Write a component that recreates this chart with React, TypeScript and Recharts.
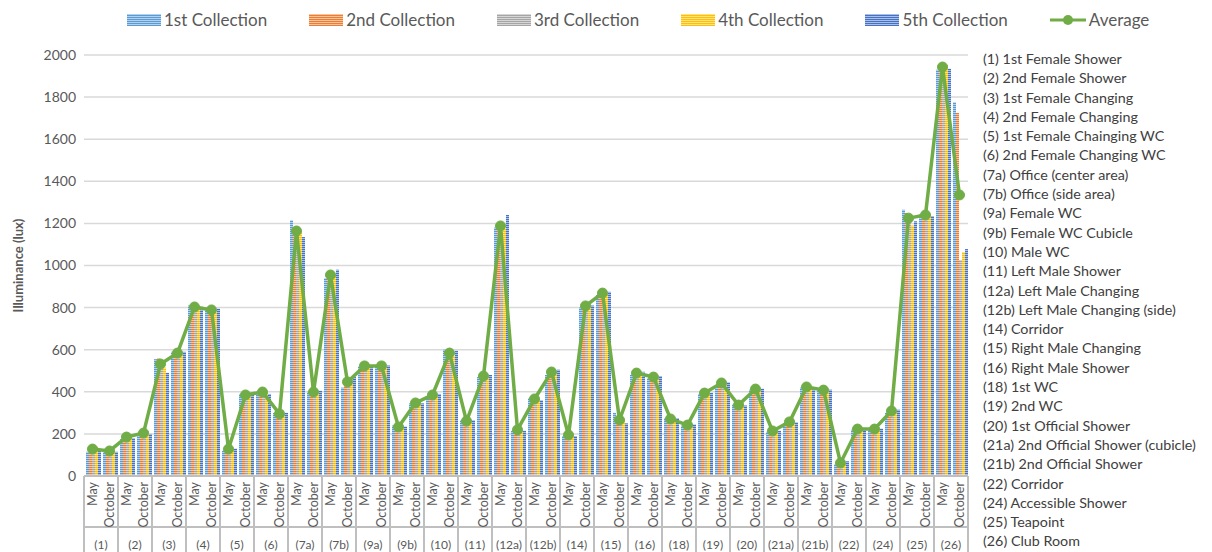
import React from "react";
import { Bar, CartesianGrid, ComposedChart, Legend, Line, XAxis, YAxis } from "recharts";

const locations = [
  "(1)", "(2)", "(3)", "(4)", "(5)", "(6)", "(7a)", "(7b)", "(9a)", "(9b)", "(10)", "(11)", "(12a)",
  "(12b)", "(14)", "(15)", "(16)", "(18)", "(19)", "(20)", "(21a)", "(21b)", "(22)", "(24)", "(25)", "(26)",
];

const locationNames = [
  "(1) 1st Female Shower",
  "(2) 2nd Female Shower",
  "(3) 1st Female Changing",
  "(4) 2nd Female Changing",
  "(5) 1st Female Chainging WC",
  "(6) 2nd Female Changing WC",
  "(7a) Office (center area)",
  "(7b) Office (side area)",
  "(9a) Female WC",
  "(9b) Female WC Cubicle",
  "(10) Male WC",
  "(11) Left Male Shower",
  "(12a) Left Male Changing",
  "(12b) Left Male Changing (side)",
  "(14) Corridor",
  "(15) Right Male Changing",
  "(16) Right Male Shower",
  "(18) 1st WC",
  "(19) 2nd WC",
  "(20) 1st Official Shower",
  "(21a) 2nd Official Shower (cubicle)",
  "(21b) 2nd Official Shower",
  "(22) Corridor",
  "(24) Accessible Shower",
  "(25) Teapoint",
  "(26) Club Room",
];

const months = ["May", "October"];

// one value per location x month (May, October), in the order of `locations`
const collection1 = [
  115, 120, 175, 200, 555, 590, 810, 790, 120, 390, 400, 300, 1215, 400, 940, 420, 520, 525, 240, 345,
  380, 600, 265, 470, 1180, 215, 370, 480, 190, 800, 860, 300, 480, 465, 275, 240, 390, 430, 340, 410,
  210, 250, 420, 410, 55, 220, 225, 300, 1265, 1245, 1930, 1776,
];
const collection2 = [
  130, 125, 190, 210, 560, 580, 800, 785, 130, 380, 410, 290, 1160, 395, 950, 440, 525, 530, 225, 350,
  390, 575, 255, 480, 1185, 220, 375, 490, 200, 810, 875, 260, 495, 470, 265, 245, 395, 445, 335, 415,
  215, 260, 425, 400, 60, 225, 220, 310, 1250, 1235, 1945, 1724,
];
const collection3 = [
  135, 110, 185, 195, 540, 585, 805, 795, 125, 385, 395, 295, 1150, 400, 955, 450, 515, 515, 230, 340,
  385, 580, 260, 475, 1160, 225, 360, 500, 195, 805, 870, 255, 490, 475, 270, 235, 400, 450, 330, 420,
  220, 255, 430, 405, 65, 230, 215, 315, 1210, 1240, 1950, 1026,
];
const collection4 = [
  140, 125, 195, 215, 515, 575, 795, 780, 135, 375, 400, 290, 1160, 395, 950, 455, 530, 520, 235, 355,
  380, 570, 260, 470, 1175, 220, 365, 495, 200, 815, 865, 265, 485, 465, 270, 245, 390, 440, 345, 405,
  210, 265, 420, 415, 60, 215, 230, 305, 1190, 1245, 1955, 1064,
];
const collection5 = [
  120, 115, 180, 200, 490, 590, 805, 795, 130, 395, 390, 300, 1135, 405, 980, 470, 525, 525, 235, 345,
  390, 595, 265, 480, 1240, 215, 360, 505, 190, 810, 875, 250, 495, 475, 275, 245, 395, 445, 335, 415,
  215, 255, 420, 410, 70, 225, 225, 315, 1210, 1235, 1935, 1078,
];
const average = [
  128, 119, 185, 204, 532, 584, 803, 789, 128, 385, 399, 295, 1164, 399, 955, 447, 523, 523, 233, 347,
  385, 584, 261, 475, 1188, 219, 366, 494, 195, 808, 869, 266, 489, 470, 271, 242, 394, 442, 337, 413,
  214, 257, 423, 408, 62, 223, 223, 309, 1225, 1240, 1943, 1335,
];

const yTicks = [0, 200, 400, 600, 800, 1000, 1200, 1400, 1600, 1800, 2000];

const seriesNames = ["1st Collection", "2nd Collection", "3rd Collection", "4th Collection", "5th Collection"];
const seriesKeys = ["c1", "c2", "c3", "c4", "c5"];
const colors = ["#5B9BD5", "#ED7D31", "#A5A5A5", "#FFC000", "#4472C4"];
const lineColor = "#70AD47";

const data = locations.flatMap((loc, i) =>
  months.map((month, j) => {
    const k = i * 2 + j;
    return {
      loc,
      month,
      c1: collection1[k],
      c2: collection2[k],
      c3: collection3[k],
      c4: collection4[k],
      c5: collection5[k],
      avg: average[k],
    };
  })
);

const FONT = "Lato, 'Open Sans', sans-serif";
const BAND = 17;
const AXIS_GRAY = "#BFBFBF";

function MonthTick(props: any) {
  const { x, y, payload } = props;
  const idx = payload.index;
  const half = BAND / 2;
  return (
    <g>
      {idx % 2 === 0 && <line x1={x - half} x2={x - half} y1={y} y2={y + 80} stroke={AXIS_GRAY} strokeWidth={2} />}
      {idx === data.length - 1 && (
        <line x1={x + half} x2={x + half} y1={y} y2={y + 80} stroke={AXIS_GRAY} strokeWidth={2} />
      )}
      <line x1={x - half} x2={x + half} y1={y + 51} y2={y + 51} stroke={AXIS_GRAY} strokeWidth={2} />
      <text
        x={x}
        y={y + 6}
        dy="0.35em"
        transform={`rotate(-90, ${x}, ${y + 6})`}
        textAnchor="end"
        fontSize={12.5}
        fill="#595959"
        fontFamily={FONT}
      >
        {payload.value}
      </text>
      {idx % 2 === 1 && (
        <text x={x - half} y={y + 73} textAnchor="middle" fontSize={12} fill="#595959" fontFamily={FONT}>
          {data[idx].loc}
        </text>
      )}
    </g>
  );
}

function LegendContent() {
  return (
    <div
      style={{
        display: "flex",
        alignItems: "center",
        paddingLeft: 127,
        fontFamily: FONT,
        fontSize: 17,
        color: "#595959",
        whiteSpace: "nowrap",
        width: 1212,
        boxSizing: "border-box",
      }}
    >
      {seriesNames.map((name, i) => (
        <div key={name} style={{ display: "flex", alignItems: "center", marginRight: 42 }}>
          <svg width={34} height={12} style={{ marginRight: 3 }}>
            <rect width={34} height={12} fill={`url(#pat${i})`} />
          </svg>
          <span>{name}</span>
        </div>
      ))}
      <div style={{ display: "flex", alignItems: "center" }}>
        <svg width={36} height={12} style={{ marginRight: 3 }}>
          <line x1={0} x2={36} y1={6} y2={6} stroke={lineColor} strokeWidth={3} />
          <circle cx={18} cy={6} r={5} fill={lineColor} />
        </svg>
        <span>Average</span>
      </div>
    </div>
  );
}

function YLabel(props: any) {
  const { viewBox } = props;
  const cy = viewBox.y + viewBox.height / 2;
  return (
    <text
      x={18}
      y={cy}
      dy="0.35em"
      transform={`rotate(-90, 18, ${cy})`}
      textAnchor="middle"
      fontSize={13}
      fontWeight="bold"
      fill="#595959"
      fontFamily={FONT}
    >
      Illuminance (lux)
    </text>
  );
}

export default function App() {
  return (
    <div style={{ position: "absolute", left: 0, top: 0, width: 1212, height: 552, background: "#fff", overflow: "hidden" }}>
      <ComposedChart
        width={1212}
        height={552}
        data={data}
        margin={{ top: 25, right: 244, bottom: 0, left: 24 }}
        barCategoryGap={2}
        barGap={0}
      >
        <defs>
          {colors.map((c, i) => (
            <pattern key={c} id={`pat${i}`} width={4} height={2} patternUnits="userSpaceOnUse">
              <rect width={4} height={2} fill={c} />
              <rect width={4} height={1} fill="#fff" fillOpacity={0.55} />
            </pattern>
          ))}
        </defs>
        <CartesianGrid vertical={false} stroke="#D9D9D9" strokeWidth={1.5} />
        <XAxis
          dataKey="month"
          interval={0}
          height={76}
          tickLine={false}
          tickSize={0}
          tickMargin={0}
          axisLine={{ stroke: AXIS_GRAY, strokeWidth: 2 }}
          tick={<MonthTick />}
        />
        <YAxis
          width={60}
          domain={[0, 2000]}
          ticks={yTicks}
          axisLine={false}
          tickLine={false}
          tick={{ fontSize: 14, fill: "#595959", fontFamily: FONT }}
          label={<YLabel />}
        />
        <Legend verticalAlign="top" height={30} wrapperStyle={{ top: 9, left: 0, width: 1212 }} content={<LegendContent />} />
        {seriesKeys.map((k, i) => (
          <Bar key={k} dataKey={k} name={seriesNames[i]} fill={`url(#pat${i})`} isAnimationActive={false} />
        ))}
        <Line
          dataKey="avg"
          name="Average"
          stroke={lineColor}
          strokeWidth={3.5}
          dot={{ r: 5, fill: lineColor, stroke: lineColor, strokeWidth: 1 }}
          isAnimationActive={false}
        />
      </ComposedChart>
      <div
        style={{
          position: "absolute",
          left: 983,
          top: 49,
          fontFamily: FONT,
          fontSize: 14.3,
          lineHeight: "19.3px",
          color: "#404040",
          whiteSpace: "nowrap",
        }}
      >
        {locationNames.map((n) => (
          <div key={n}>{n}</div>
        ))}
      </div>
    </div>
  );
}
